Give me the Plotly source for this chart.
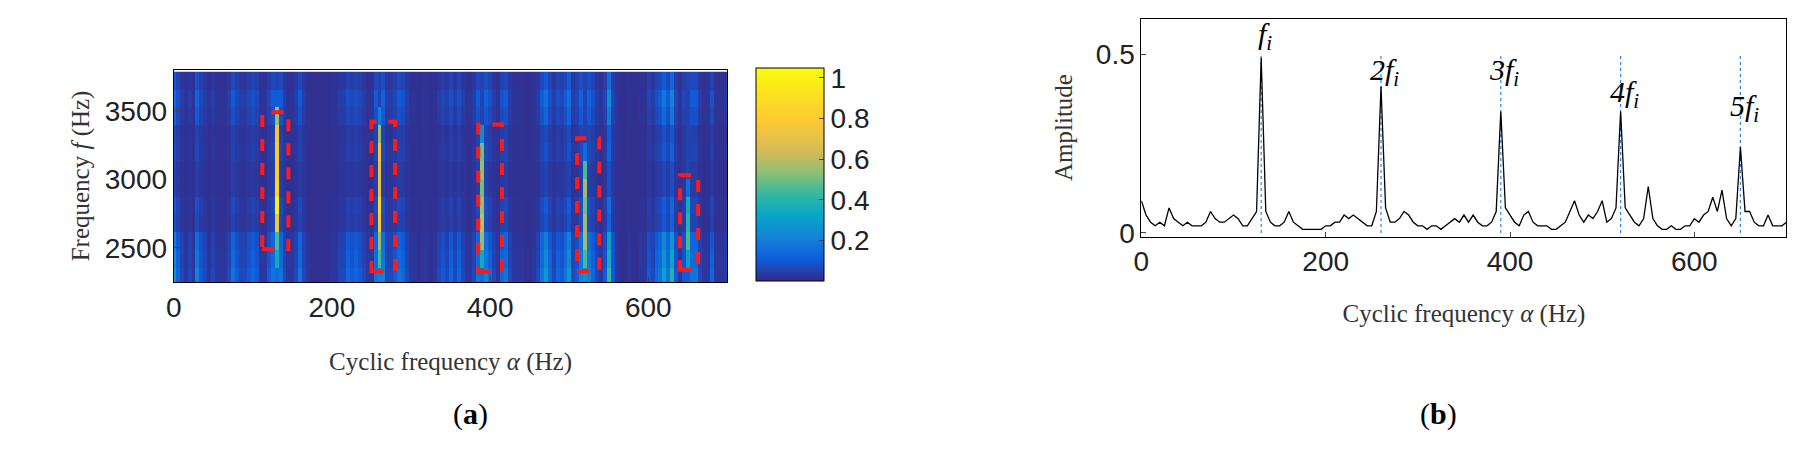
import plotly.graph_objects as go

# ---- spectrum (panel b) ----
alpha = list(range(0, 705, 5))
amp = [0.09,0.05,0.03,0.02,0.03,0.02,0.07,0.04,0.03,0.02,0.03,0.02,0.02,0.02,0.03,0.06,0.04,0.03,0.03,0.04,
       0.05,0.04,0.02,0.02,0.04,0.06,0.49,0.06,0.03,0.02,0.02,0.03,0.06,0.03,0.02,0.01,0.01,0.01,0.01,0.01,
       0.02,0.02,0.03,0.03,0.05,0.04,0.05,0.04,0.03,0.02,0.02,0.06,0.41,0.07,0.03,0.03,0.04,0.06,0.05,0.03,
       0.02,0.02,0.01,0.02,0.02,0.01,0.02,0.03,0.04,0.03,0.05,0.03,0.05,0.03,0.02,0.02,0.03,0.06,0.34,0.07,
       0.05,0.03,0.02,0.05,0.06,0.03,0.02,0.02,0.02,0.01,0.01,0.02,0.03,0.06,0.09,0.05,0.03,0.05,0.04,0.06,
       0.09,0.03,0.04,0.07,0.34,0.07,0.05,0.03,0.02,0.04,0.13,0.04,0.02,0.01,0.01,0.02,0.01,0.01,0.02,0.02,
       0.04,0.03,0.05,0.06,0.10,0.06,0.12,0.04,0.02,0.04,0.24,0.06,0.06,0.03,0.02,0.02,0.05,0.02,0.02,0.02,0.03]
harm_x = [130, 260, 390, 520, 650]
harm_lbl = ["f", "2f", "3f", "4f", "5f"]
harm_lbl_y = [0.55, 0.45, 0.45, 0.39, 0.35]

# ---- cyclic spectral map (panel a) ----
freq_bands = [2290, 2420, 2550, 2680, 2810, 2940, 3070, 3200, 3330, 3460, 3590, 3720]
row_gain = [1.8, 1.5, 1.3, 0.5, 0.6, 0.3, 0.3, 0.5, 0.4, 0.8, 1.0, 0.6]
peak_cols = [130, 260, 390, 520, 650]
peak_rows = [
    [0.15, 0.35, 0.45, 0.75, 1.00, 0.85, 0.80, 0.80, 0.75, 0.55, 0.10, 0.05],
    [0.20, 0.45, 0.55, 0.80, 0.85, 0.70, 0.70, 0.75, 0.55, 0.20, 0.05, 0.05],
    [0.15, 0.35, 0.55, 0.60, 0.55, 0.50, 0.55, 0.50, 0.25, 0.05, 0.05, 0.05],
    [0.25, 0.45, 0.55, 0.55, 0.50, 0.55, 0.45, 0.15, 0.05, 0.05, 0.05, 0.05],
    [0.10, 0.30, 0.45, 0.40, 0.35, 0.15, 0.05, 0.05, 0.05, 0.05, 0.05, 0.05],
]

z = []
for r, g in enumerate(row_gain):
    row = []
    for c, a in enumerate(alpha):
        if a in peak_cols:
            v = peak_rows[peak_cols.index(a)][r]
        else:
            v = 0.01 + max(amp[c] - 0.015, 0) * 2.0 * g
        row.append(min(v, 1.05))
    z.append(row)

boxes = [(112, 145, 2490, 3490), (250, 280, 2330, 3420), (385, 415, 2330, 3400),
         (510, 538, 2330, 3300), (640, 663, 2340, 3030)]

parula = [[0, "#352a87"], [0.1, "#0f5cdd"], [0.2, "#1481d6"], [0.3, "#06a4ca"], [0.4, "#2eb7a4"],
          [0.5, "#87bf77"], [0.6, "#d1bb59"], [0.75, "#fec832"], [1, "#f9fb0e"]]

tickf = dict(family="Liberation Sans Narrow, Liberation Sans, Arial", size=28, color="#222")
titf = dict(family="Liberation Serif, serif", size=25, color="#333")

fig = go.Figure()
fig.add_trace(go.Heatmap(x=alpha, y=freq_bands, z=z, zmin=0, zmax=1.05, colorscale=parula,
                         xaxis="x", yaxis="y",
                         colorbar=dict(x=0.413, xanchor="left", y=0.403, yanchor="bottom", len=0.465,
                                       ypad=0, xpad=0, thickness=68, outlinecolor="black", outlinewidth=1,
                                       ticks="inside", ticklen=5,
                                       tickvals=[0.2, 0.4, 0.6, 0.8, 1], ticktext=["0.2", "0.4", "0.6", "0.8", "1"],
                                       tickfont=tickf)))
fig.add_trace(go.Scatter(x=alpha, y=amp, mode="lines", line=dict(color="black", width=1.3),
                         xaxis="x2", yaxis="y2", showlegend=False))

shapes = []
for x0, x1, y0, y1 in boxes:
    shapes.append(dict(type="rect", xref="x", yref="y", x0=x0, x1=x1, y0=y0, y1=y1,
                       line=dict(color="#ff1a1a", width=4, dash="dash")))
for hx in harm_x:
    shapes.append(dict(type="line", xref="x2", yref="y2", x0=hx, x1=hx, y0=0, y1=0.5,
                       line=dict(color="#3d7fd0", width=1.2, dash="dot"), layer="below"))

ann = []
for hx, lb, ly in zip(harm_x, harm_lbl, harm_lbl_y):
    ann.append(dict(xref="x2", yref="y2", x=hx + 4, y=ly, text=f"<i>{lb}<sub>i</sub></i>", showarrow=False,
                    font=dict(family="Liberation Serif, serif", size=30, color="black")))
ann.append(dict(xref="paper", yref="paper", x=0.243, y=0.07, text="(<b>a</b>)", showarrow=False,
                font=dict(family="Liberation Serif, serif", size=30, color="black")))
ann.append(dict(xref="paper", yref="paper", x=0.805, y=0.07, text="(<b>b</b>)", showarrow=False,
                font=dict(family="Liberation Serif, serif", size=30, color="black")))

ax_common = dict(showline=True, linecolor="black", mirror=True, ticks="inside", ticklen=5,
                 showgrid=False, zeroline=False, tickfont=tickf)

fig.update_layout(
    width=1800, height=469, margin=dict(l=0, r=0, t=0, b=0), plot_bgcolor="white", paper_bgcolor="white",
    showlegend=False, shapes=shapes, annotations=ann,
    xaxis=dict(domain=[0.088, 0.397], anchor="y", range=[0, 700], tickvals=[0, 200, 400, 600],
               title=dict(text="Cyclic frequency <i>α</i> (Hz)", font=titf, standoff=30), **ax_common),
    yaxis=dict(domain=[0.40, 0.865], anchor="x", range=[2250, 3800], tickvals=[2500, 3000, 3500],
               title=dict(text="Frequency <i>f</i> (Hz)", font=titf, standoff=8), **ax_common),
    xaxis2=dict(domain=[0.628, 0.988], anchor="y2", range=[0, 700], tickvals=[0, 200, 400, 600],
                title=dict(text="Cyclic frequency <i>α</i> (Hz)", font=titf, standoff=28), **ax_common),
    yaxis2=dict(domain=[0.50, 0.977], anchor="x2", range=[-0.01, 0.6], tickvals=[0, 0.5],
                ticktext=["0", "0.5"],
                title=dict(text="Amplitude", font=titf, standoff=16), **ax_common),
)
fig.write_html("out.html")
